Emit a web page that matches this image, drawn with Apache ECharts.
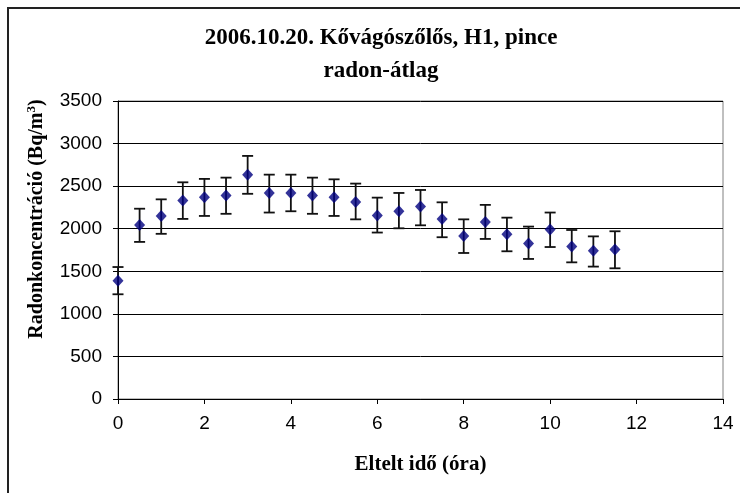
<!DOCTYPE html>
<html>
<head>
<meta charset="utf-8">
<script src="https://cdn.jsdelivr.net/npm/echarts@6/dist/echarts.min.js"></script>
<style>
  html, body { margin: 0; padding: 0; background: #fff; }
  #chart { width: 740px; height: 493px; }
</style>
</head>
<body>
<div id="chart"></div>
<script>
// Elapsed time in hours
const hours = [0, 0.5, 1, 1.5, 2, 2.5, 3, 3.5, 4, 4.5, 5, 5.5, 6, 6.5, 7, 7.5, 8, 8.5, 9, 9.5, 10, 10.5, 11, 11.5];
// Mean radon concentration (Bq/m3)
const radonMean = [1390, 2045, 2150, 2330, 2370, 2390, 2635, 2420, 2420, 2390, 2370, 2315, 2155, 2205, 2260, 2115, 1915, 2080, 1935, 1825, 1990, 1790, 1740, 1755];
// Lower and upper ends of the error bars
const radonLow = [1230, 1845, 1940, 2115, 2150, 2175, 2410, 2190, 2205, 2175, 2150, 2110, 1955, 2005, 2040, 1900, 1715, 1880, 1735, 1645, 1785, 1605, 1555, 1535];
const radonHigh = [1550, 2235, 2345, 2545, 2585, 2600, 2855, 2635, 2635, 2600, 2580, 2530, 2365, 2420, 2455, 2310, 2110, 2280, 2130, 2025, 2190, 1985, 1910, 1970];

const titleLines = ['2006.10.20. Kővágószőlős, H1, pince', 'radon-átlag'];

const serif = '"Liberation Serif", "Times New Roman", serif';
const sans = '"Liberation Sans", Arial, sans-serif';

const chart = echarts.init(document.getElementById('chart'));

const meanData = hours.map((h, i) => [h, radonMean[i]]);
const errData = hours.map((h, i) => [h, radonLow[i], radonHigh[i]]);

chart.setOption({
  animation: false,
  backgroundColor: '#fff',
  title: {
    text: titleLines.join('\n'),
    left: 376,
    textAlign: 'center',
    top: 17,
    textStyle: { fontFamily: serif, fontWeight: 'bold', fontSize: 23, lineHeight: 33, color: '#000' }
  },
  graphic: [{
    type: 'rect',
    shape: { x: 8, y: 8, width: 800, height: 600 },
    style: { fill: 'none', stroke: '#222', lineWidth: 2 },
    silent: true
  }],
  grid: { left: 118, top: 101, right: 17, bottom: 94, show: true, borderColor: '#808080', borderWidth: 1 },
  xAxis: {
    type: 'value', min: 0, max: 14, interval: 2,
    name: 'Eltelt idő (óra)', nameLocation: 'middle', nameGap: 55,
    nameTextStyle: { fontFamily: serif, fontWeight: 'bold', fontSize: 21, color: '#000' },
    axisLine: { show: true, lineStyle: { color: '#000', width: 1 } },
    axisTick: { show: true, length: 5, lineStyle: { color: '#000' } },
    axisLabel: { fontFamily: sans, fontSize: 19, color: '#000', margin: 15 },
    splitLine: { show: false }
  },
  yAxis: {
    type: 'value', min: 0, max: 3500, interval: 500,
    name: '{a|Radonkoncentráció (Bq/m}{s|3}{a|)}', nameLocation: 'middle', nameGap: 70,
    nameTextStyle: {
      padding: [0, 0, 0, 62],
      rich: {
        a: { fontFamily: serif, fontWeight: 'bold', fontSize: 20, color: '#000' },
        s: { fontFamily: serif, fontWeight: 'bold', fontSize: 13, color: '#000', verticalAlign: 'top', padding: [0, 0, 10, 0] }
      }
    },
    axisLine: { show: true, lineStyle: { color: '#000', width: 1 } },
    axisTick: { show: true, length: 5, lineStyle: { color: '#000' } },
    axisLabel: { fontFamily: sans, fontSize: 19, color: '#000', margin: 16, formatter: v => String(v) },
    splitLine: { show: true, lineStyle: { color: '#000', width: 1 } }
  },
  series: [
    {
      type: 'custom',
      data: errData,
      z: 3,
      renderItem: function (params, api) {
        const x = api.value(0);
        const lo = api.coord([x, api.value(1)]);
        const hi = api.coord([x, api.value(2)]);
        const half = 5.5;
        const st = { stroke: '#111', lineWidth: 1.8 };
        return {
          type: 'group',
          children: [
            { type: 'line', shape: { x1: lo[0], y1: lo[1], x2: hi[0], y2: hi[1] }, style: st },
            { type: 'line', shape: { x1: lo[0] - half, y1: lo[1], x2: lo[0] + half, y2: lo[1] }, style: st },
            { type: 'line', shape: { x1: hi[0] - half, y1: hi[1], x2: hi[0] + half, y2: hi[1] }, style: st }
          ]
        };
      }
    },
    {
      type: 'scatter',
      data: meanData,
      symbol: 'diamond',
      symbolSize: [11, 12],
      z: 4,
      itemStyle: { color: '#000080' }
    }
  ]
});
</script>
</body>
</html>
